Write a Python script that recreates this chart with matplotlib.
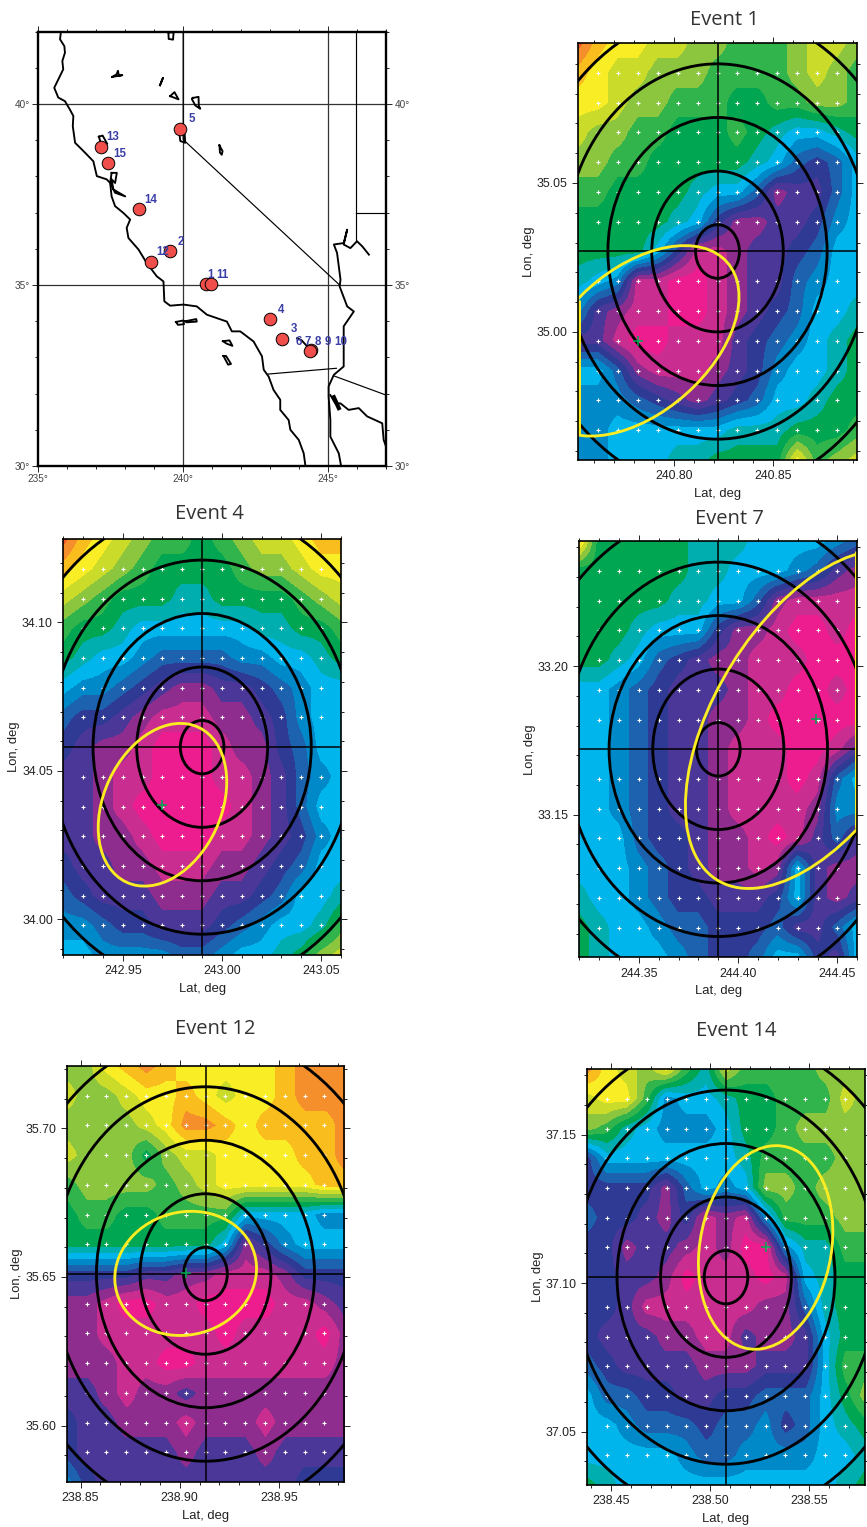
import numpy as np
import matplotlib
matplotlib.use("Agg")
import matplotlib.pyplot as plt
from matplotlib.colors import ListedColormap, BoundaryNorm
from matplotlib.patches import Ellipse
from matplotlib.ticker import MultipleLocator, FormatStrFormatter

plt.rcParams['font.family'] = ['Liberation Sans', 'DejaVu Sans']

W, H = 867, 1527

###############################################################################
# Map data (lon, lat in degrees)
# ------------------------------
coast_main = [(235.78, 41.99), (235.75, 41.79), (235.90, 41.60), (235.92, 41.42), (235.83, 41.19), (235.86, 40.96),
              (235.69, 40.68), (235.55, 40.45), (235.69, 40.18), (235.92, 40.08), (236.09, 39.85), (236.21, 39.67),
              (236.19, 39.39), (236.27, 38.93), (236.56, 38.70), (236.90, 38.42), (237.02, 38.01), (237.36, 37.92),
              (237.48, 37.82), (237.53, 37.45), (237.65, 37.18), (237.94, 36.99), (238.17, 36.81), (238.05, 36.58),
              (238.11, 36.30), (238.46, 35.98), (238.74, 35.61), (239.09, 35.24), (239.32, 35.10), (239.35, 34.55),
              (239.55, 34.43), (240.01, 34.46), (240.47, 34.41), (240.82, 34.18), (241.51, 33.99), (241.68, 33.72),
              (241.97, 33.72), (242.43, 33.44), (242.72, 33.03), (242.78, 32.66), (242.95, 32.47), (243.12, 32.10),
              (243.35, 31.83), (243.35, 31.55), (243.64, 31.27), (243.70, 31.00), (243.99, 30.72), (244.16, 30.35),
              (244.22, 30.00)]
coast_river = [(246.41, 35.84), (246.18, 36.07), (246.00, 36.21), (245.77, 36.02), (245.54, 36.12), (245.66, 36.53),
               (245.54, 36.16), (245.20, 36.12), (245.31, 35.89), (245.43, 35.15), (245.40, 34.96), (245.66, 34.41),
               (245.89, 34.27), (245.54, 33.86), (245.54, 32.75), (245.20, 32.52), (245.02, 32.20), (245.02, 31.92),
               (245.08, 31.27), (245.08, 30.81), (245.37, 30.35), (245.45, 30.00)]
coast_gulf = [(245.08, 31.96), (245.25, 31.73), (245.43, 31.73), (245.71, 31.55), (246.06, 31.60), (246.35, 31.37),
              (246.87, 31.18), (246.92, 30.72), (247.00, 30.54)]
gulf_head = [(245.20, 31.90), (245.37, 31.60)]
sf_bay = [(237.53, 38.10), (237.71, 38.10), (237.65, 37.82), (237.53, 37.92), (237.59, 37.64), (238.00, 37.45),
          (237.65, 37.55), (237.48, 37.82)]
lakes = [
    [(239.49, 41.98), (239.50, 41.80), (239.65, 41.78), (239.67, 41.98)],
    [(237.55, 40.75), (237.70, 40.82), (237.75, 40.92), (237.78, 40.78), (237.90, 40.80)],
    [(239.20, 40.52), (239.30, 40.72)],
    [(239.55, 40.22), (239.70, 40.33), (239.84, 40.13), (239.68, 40.18)],
    [(240.33, 40.17), (240.53, 40.20), (240.54, 39.95), (240.59, 39.87), (240.42, 39.96), (240.30, 40.14)],
    [(239.86, 39.25), (240.05, 39.20), (240.07, 38.93), (239.90, 38.98)],
    [(241.25, 38.86), (241.36, 38.70), (241.33, 38.60), (241.27, 38.66)],
    [(237.09, 39.10), (237.22, 39.13), (237.38, 38.90), (237.15, 38.95)],
    [(239.75, 33.98), (240.00, 34.02), (240.03, 33.92), (239.82, 33.90)],
    [(240.07, 34.00), (240.45, 34.06), (240.47, 33.99), (240.12, 33.97)],
    [(241.37, 33.45), (241.60, 33.47), (241.70, 33.32), (241.50, 33.38)],
    [(241.39, 33.04), (241.48, 33.04), (241.65, 32.82), (241.55, 32.80)],
]
salton = [(243.93, 33.53), (244.08, 33.48), (244.33, 33.26)]
borders = [
    [(240.00, 42.00), (240.00, 39.02), (245.40, 35.00)],
    [(245.97, 42.00), (245.97, 36.25)],
    [(245.97, 37.00), (247.00, 37.00)],
    [(242.93, 32.54), (245.29, 32.70)],
    [(245.20, 32.49), (247.00, 31.96)],
]

event_lon = [240.79, 239.53, 243.42, 242.99, 239.90, 244.42, 244.39, 240.97, 238.90, 237.17, 238.49, 237.40]
event_lat = [35.02, 35.93, 33.51, 34.06, 39.31, 33.20, 33.17, 35.04, 35.65, 38.82, 37.10, 38.37]

label_text = ['5', '13', '15', '14', '2', '12', '1', '11', '4', '3', '6', '7', '8', '9', '10']
label_lon = [240.29, 237.57, 237.80, 238.89, 239.91, 239.30, 240.93, 241.37, 243.39, 243.82, 243.99, 244.30, 244.64, 244.98, 245.43]
label_lat = [39.58, 39.10, 38.63, 37.36, 36.20, 35.91, 35.29, 35.29, 34.32, 33.79, 33.43, 33.43, 33.43, 33.43, 33.43]

###############################################################################
# Colour classes, low to high
# ---------------------------
level_colors = ['#ED1C8F', '#C82D8F', '#8E2D8E', '#4B3797', '#2F3A94', '#1C62AE', '#0089C9', '#00B5EC', '#00AEB0',
                '#00A651', '#31B44B', '#8CC63F', '#CADB2A', '#F9ED25', '#F9BE1E', '#F48F2B', '#F1592A']
cmap = ListedColormap(level_colors)
norm = BoundaryNorm(np.arange(-0.5, 17.5), cmap.N)

###############################################################################
# Event grids, top row first
# --------------------------
event1_vals = [
    [16, 14, 13, 13, 12, 12, 11, 11, 10, 10, 10, 11, 12, 12, 11],
    [14, 13, 12, 12, 11, 11, 11, 10, 10, 10, 10, 11, 12, 11, 10],
    [13, 13, 12, 11, 11, 10, 10, 10, 9, 9, 10, 10, 11, 11, 10],
    [12, 11, 11, 10, 10, 9, 9, 9, 10, 9, 8, 7, 7, 8, 9],
    [11, 11, 10, 10, 9, 9, 9, 9, 9, 8, 7, 5, 4, 5, 7],
    [10, 10, 9, 9, 9, 9, 8, 7, 7, 5, 2, 3, 3, 5, 7],
    [9, 9, 9, 9, 9, 8, 7, 4, 2, 2, 3, 3, 4, 6, 7],
    [9, 9, 9, 9, 7, 4, 1, 1, 2, 3, 3, 4, 5, 7, 7],
    [8, 7, 6, 1, 1, 0, 0, 1, 2, 3, 3, 5, 6, 7, 7],
    [6, 3, 2, 1, 1, 0, 0, 1, 2, 3, 4, 5, 7, 7, 8],
    [3, 3, 1, 0, 0, 1, 1, 1, 3, 4, 5, 6, 7, 8, 9],
    [7, 7, 5, 2, 1, 1, 1, 2, 3, 4, 6, 7, 7, 8, 9],
    [6, 6, 6, 5, 4, 3, 2, 3, 4, 5, 7, 7, 8, 9, 9],
    [6, 6, 7, 7, 7, 7, 7, 7, 8, 8, 8, 9, 9, 9, 10],
    [6, 6, 7, 7, 7, 8, 8, 9, 9, 9, 9, 13, 10, 11, 12],
]
event4_vals = [
    [16, 14, 13, 12, 11, 10, 10, 9, 10, 11, 12, 12, 13, 14, 14],
    [14, 13, 12, 11, 10, 9, 9, 9, 9, 10, 11, 11, 12, 13, 13],
    [12, 11, 10, 9, 9, 9, 8, 8, 9, 9, 9, 9, 10, 11, 12],
    [10, 9, 9, 8, 7, 7, 7, 7, 7, 7, 8, 8, 9, 9, 10],
    [9, 8, 7, 7, 6, 5, 5, 5, 5, 6, 6, 7, 7, 8, 9],
    [7, 6, 6, 5, 4, 3, 2, 2, 3, 3, 4, 5, 6, 7, 7],
    [5, 4, 4, 3, 2, 1, 1, 1, 2, 2, 3, 4, 6, 7, 7],
    [4, 3, 2, 2, 1, 0, 0, 0, 1, 2, 2, 4, 5, 7, 7],
    [3, 3, 2, 1, 1, 0, 0, 0, 1, 1, 2, 3, 5, 6, 7],
    [3, 3, 2, 1, 0, 0, 0, 0, 0, 1, 2, 3, 5, 7, 7],
    [3, 3, 2, 2, 1, 0, 0, 0, 1, 1, 2, 3, 4, 6, 7],
    [4, 3, 3, 2, 2, 1, 1, 1, 2, 2, 3, 4, 5, 7, 7],
    [5, 4, 3, 3, 3, 2, 2, 2, 3, 3, 4, 5, 7, 7, 8],
    [6, 6, 5, 4, 4, 3, 3, 3, 4, 5, 6, 7, 7, 8, 10],
    [7, 7, 6, 6, 6, 6, 5, 5, 6, 7, 7, 8, 9, 11, 12],
]
event7_vals = [
    [14, 9, 9, 9, 9, 9, 8, 8, 8, 7, 7, 7, 7, 6, 5],
    [9, 9, 9, 9, 9, 9, 8, 8, 7, 7, 7, 6, 5, 3, 2],
    [9, 9, 9, 9, 9, 8, 8, 7, 7, 5, 2, 1, 1, 1, 1],
    [9, 9, 9, 8, 7, 7, 7, 4, 2, 2, 1, 0, 0, 1, 0],
    [9, 9, 8, 7, 5, 4, 3, 2, 2, 1, 1, 1, 0, 0, 0],
    [7, 7, 6, 5, 4, 3, 3, 3, 2, 1, 1, 0, 0, 1, 0],
    [7, 7, 6, 5, 4, 3, 3, 2, 2, 1, 0, 0, 0, 0, 0],
    [7, 7, 6, 5, 4, 3, 3, 2, 1, 1, 1, 0, 0, 1, 3],
    [7, 7, 6, 5, 4, 3, 3, 2, 1, 1, 1, 0, 1, 5, 7],
    [7, 7, 6, 5, 4, 3, 3, 2, 1, 1, 1, 1, 2, 6, 6],
    [7, 7, 7, 5, 4, 4, 3, 2, 2, 1, 0, 1, 3, 5, 3],
    [7, 7, 7, 6, 5, 4, 3, 2, 2, 1, 2, 7, 3, 2, 2],
    [8, 7, 7, 6, 5, 4, 4, 3, 3, 3, 4, 7, 3, 2, 3],
    [9, 8, 7, 7, 6, 5, 5, 4, 4, 4, 5, 3, 3, 5, 7],
    [9, 8, 7, 7, 7, 6, 5, 4, 4, 5, 7, 7, 4, 3, 7],
]
event12_vals = [
    [11, 11, 13, 14, 15, 14, 13, 13, 13, 13, 13, 14, 15, 15, 15],
    [12, 11, 11, 12, 13, 13, 14, 13, 12, 13, 13, 14, 15, 15, 15],
    [11, 11, 11, 11, 12, 13, 15, 15, 14, 13, 14, 14, 14, 14, 15],
    [12, 11, 11, 11, 9, 11, 12, 12, 13, 13, 13, 13, 14, 14, 15],
    [10, 11, 11, 11, 11, 10, 11, 12, 13, 13, 13, 13, 13, 14, 14],
    [9, 10, 10, 9, 9, 10, 10, 10, 10, 7, 7, 7, 7, 6, 6],
    [9, 9, 9, 9, 9, 9, 9, 9, 7, 2, 4, 6, 7, 7, 7],
    [4, 4, 4, 4, 3, 3, 2, 2, 1, 1, 1, 2, 4, 4, 4],
    [2, 2, 1, 0, 0, 1, 1, 0, 0, 0, 0, 1, 1, 2, 3],
    [2, 2, 1, 1, 1, 1, 1, 1, 0, 1, 1, 1, 1, 0, 2],
    [2, 2, 2, 1, 1, 0, 0, 1, 1, 1, 1, 1, 1, 1, 2],
    [3, 3, 2, 1, 2, 2, 3, 2, 2, 2, 2, 2, 2, 2, 2],
    [4, 3, 3, 2, 2, 2, 1, 2, 2, 2, 1, 2, 2, 2, 2],
    [4, 3, 3, 3, 3, 3, 2, 3, 3, 3, 2, 3, 3, 3, 3],
    [6, 4, 3, 3, 3, 3, 3, 3, 3, 3, 3, 3, 4, 4, 4],
]
event14_vals = [
    [15, 13, 12, 11, 13, 10, 8, 12, 10, 10, 10, 10, 11, 11, 11],
    [12, 13, 13, 10, 6, 7, 7, 8, 9, 9, 10, 10, 10, 12, 11],
    [11, 10, 8, 7, 6, 6, 6, 7, 9, 9, 10, 11, 11, 11, 11],
    [4, 7, 7, 7, 7, 7, 7, 7, 8, 10, 10, 10, 10, 11, 11],
    [4, 4, 4, 4, 2, 5, 7, 6, 7, 11, 11, 10, 11, 11, 11],
    [5, 4, 4, 3, 2, 4, 1, 2, 1, 6, 10, 10, 10, 11, 11],
    [4, 4, 2, 3, 3, 2, 1, 2, 0, 0, 6, 8, 8, 10, 10],
    [4, 4, 3, 3, 2, 0, 1, 1, 1, 0, 1, 7, 8, 9, 9],
    [4, 4, 3, 1, 1, 1, 1, 1, 1, 2, 2, 5, 8, 9, 9],
    [4, 3, 3, 3, 2, 2, 1, 1, 3, 2, 2, 3, 7, 9, 9],
    [5, 4, 3, 3, 3, 3, 2, 2, 2, 3, 3, 3, 7, 10, 10],
    [7, 5, 5, 4, 4, 3, 3, 4, 4, 5, 5, 5, 7, 9, 11],
    [7, 7, 6, 5, 5, 5, 4, 5, 5, 6, 4, 5, 7, 8, 9],
    [7, 7, 7, 7, 7, 6, 5, 5, 6, 6, 6, 6, 7, 7, 8],
    [9, 8, 7, 7, 7, 7, 7, 7, 7, 7, 7, 7, 7, 8, 9],
]

# grid centres of each event and the yellow error ellipse (lon, lat, width, height, angle)
center_lon = [240.822, 242.990, 244.390, 238.913, 238.508]
center_lat = [35.027, 34.058, 33.172, 35.651, 37.102]
plus_lon = [240.782, 242.970, 244.439, 238.903, 238.528]
plus_lat = [34.997, 34.0386, 33.1821, 35.6512, 37.112]
yellow_w = [0.1074, 0.0690, 0.1518, 0.0716, 0.0734]
yellow_h = [0.0536, 0.0494, 0.0844, 0.0416, 0.0626]
yellow_angle = [22, 29.5, 37.3, 4, 47]
ring_rx = [0.011, 0.033, 0.055, 0.077, 0.099]
ring_ry = [0.009, 0.027, 0.045, 0.063, 0.081]

titles = ['Event 1', 'Event 4', 'Event 7', 'Event 12', 'Event 14']
grids = [event1_vals, event4_vals, event7_vals, event12_vals, event14_vals]
# left, top, right, bottom of the axes and title centre, in pixels
boxes = [(578, 43, 857, 460), (63.3, 539.3, 341, 955), (579.3, 541.3, 857.3, 957.3),
         (66.7, 1066, 344.3, 1482), (587.3, 1069.3, 864.7, 1485)]
title_xy = [(724, 20), (209, 514), (729, 519), (215, 1029), (736, 1031)]
# yellow line left along the frame where the ellipse runs out of the grid
yellow_edge = [(240.752, 35.0108, 34.9654), None, (244.46, 33.2388, 33.1456), None, None]


def add_axes_px(fig, box):
    l, t, r, b = box
    return fig.add_axes([l / W, 1 - b / H, (r - l) / W, (b - t) / H])


fig = plt.figure(figsize=(W / 100, H / 100), dpi=100)

###############################################################################
# Map
# ---
ax_map = add_axes_px(fig, (38.3, 31.7, 386, 466))
ax_map.set_xlim(235, 247)
ax_map.set_ylim(30, 42)
for v in [240, 245]:
    ax_map.axvline(v, color='#333333', lw=0.9, zorder=1)
for v in [35, 40]:
    ax_map.axhline(v, color='#333333', lw=0.9, zorder=1)
for line in borders:
    xy = np.array(line)
    ax_map.plot(xy[:, 0], xy[:, 1], color='k', lw=0.85, zorder=2)
for line in [coast_main, coast_river, coast_gulf, salton]:
    xy = np.array(line)
    ax_map.plot(xy[:, 0], xy[:, 1], color='k', lw=1.35, zorder=3)
xy = np.array(gulf_head)
ax_map.plot(xy[:, 0], xy[:, 1], color='k', lw=3, zorder=3)
for line in [sf_bay] + lakes:
    xy = np.array(line + [line[0]])
    ax_map.plot(xy[:, 0], xy[:, 1], color='k', lw=1.35, zorder=3)
ax_map.scatter(event_lon, event_lat, s=82, color='#EF4E4A', edgecolor='k', linewidth=0.7, zorder=4)
for s, x, y in zip(label_text, label_lon, label_lat):
    ax_map.text(x, y, s, color='#3B3FA5', fontsize=8.3, fontweight='bold', ha='center', va='center', zorder=5)
ax_map.xaxis.set_major_locator(MultipleLocator(5))
ax_map.yaxis.set_major_locator(MultipleLocator(5))
ax_map.xaxis.set_minor_locator(MultipleLocator(1))
ax_map.yaxis.set_minor_locator(MultipleLocator(1))
ax_map.xaxis.set_major_formatter(FormatStrFormatter('%d\u00b0'))
ax_map.yaxis.set_major_formatter(FormatStrFormatter('%d\u00b0'))
ax_map.tick_params(which='major', length=4, width=0.6, top=True, right=True, labelright=True,
                   labelsize=7.2, labelcolor='#444444', pad=2)
ax_map.tick_params(which='minor', length=2, width=0.6, top=True, right=True)
for sp in ax_map.spines.values():
    sp.set_linewidth(1.7)

###############################################################################
# Event panels
# ------------
for i in range(len(titles)):
    ax = add_axes_px(fig, boxes[i])
    cx, cy = center_lon[i], center_lat[i]
    ax.imshow(np.array(grids[i]), cmap=cmap, norm=norm, aspect='auto', origin='upper',
              extent=(cx - 0.075, cx + 0.075, cy - 0.075, cy + 0.075),
              interpolation='bilinear', interpolation_stage='data', zorder=0)
    ax.set_xlim(cx - 0.07, cx + 0.07)
    ax.set_ylim(cy - 0.07, cy + 0.07)

    # white crosses on the search grid, the centre row sits under the black line
    offs_x = np.arange(-6, 7) * 0.01
    offs_y = np.array([-6, -5, -4, -3, -2, -1, 1, 2, 3, 4, 5, 6]) * 0.01
    gx, gy = np.meshgrid(cx + offs_x, cy + offs_y)
    ax.plot(gx.ravel(), gy.ravel(), linestyle='none', marker='+', ms=3.2, mew=0.8, color='white', zorder=1)

    for rx, ry in zip(ring_rx, ring_ry):
        ax.add_patch(Ellipse((cx, cy), 2 * rx, 2 * ry, fill=False, ec='k', lw=2.05, zorder=3))
    ax.axvline(cx, color='k', lw=1.1, zorder=3)
    ax.axhline(cy, color='k', lw=1.1, zorder=3)

    ax.add_patch(Ellipse((plus_lon[i], plus_lat[i]), yellow_w[i], yellow_h[i], angle=yellow_angle[i],
                         fill=False, ec='#FBED21', lw=2.05, zorder=4))
    if yellow_edge[i] is not None:
        ex, y0, y1 = yellow_edge[i]
        ax.plot([ex, ex], [y0, y1], color='#FBED21', lw=3.6, solid_capstyle='butt', zorder=4)
    ax.plot([plus_lon[i]], [plus_lat[i]], marker='+', ms=7, mew=1.1, color='#00A651', linestyle='none', zorder=5)

    ax.xaxis.set_major_locator(MultipleLocator(0.05))
    ax.yaxis.set_major_locator(MultipleLocator(0.05))
    ax.xaxis.set_minor_locator(MultipleLocator(0.01))
    ax.yaxis.set_minor_locator(MultipleLocator(0.01))
    ax.xaxis.set_major_formatter(FormatStrFormatter('%.2f'))
    ax.yaxis.set_major_formatter(FormatStrFormatter('%.2f'))
    ax.tick_params(which='major', length=4, width=0.6, top=True, right=True, labelsize=8.9, labelcolor='#222222', pad=3.5)
    ax.tick_params(which='minor', length=2, width=0.6, top=True, right=True)
    ax.set_xlabel('Lat, deg', fontsize=9.4, color='#222222', labelpad=4)
    ax.set_ylabel('Lon, deg', fontsize=9.4, color='#222222', labelpad=1.5)
    for sp in ax.spines.values():
        sp.set_linewidth(1.2)
        sp.set_zorder(6)
    tx, ty = title_xy[i]
    fig.text(tx / W, 1 - ty / H, titles[i], fontsize=14.5, family=['Open Sans', 'DejaVu Sans'], color='#333333',
             ha='center', va='center')

plt.savefig('out.png', dpi=100)
